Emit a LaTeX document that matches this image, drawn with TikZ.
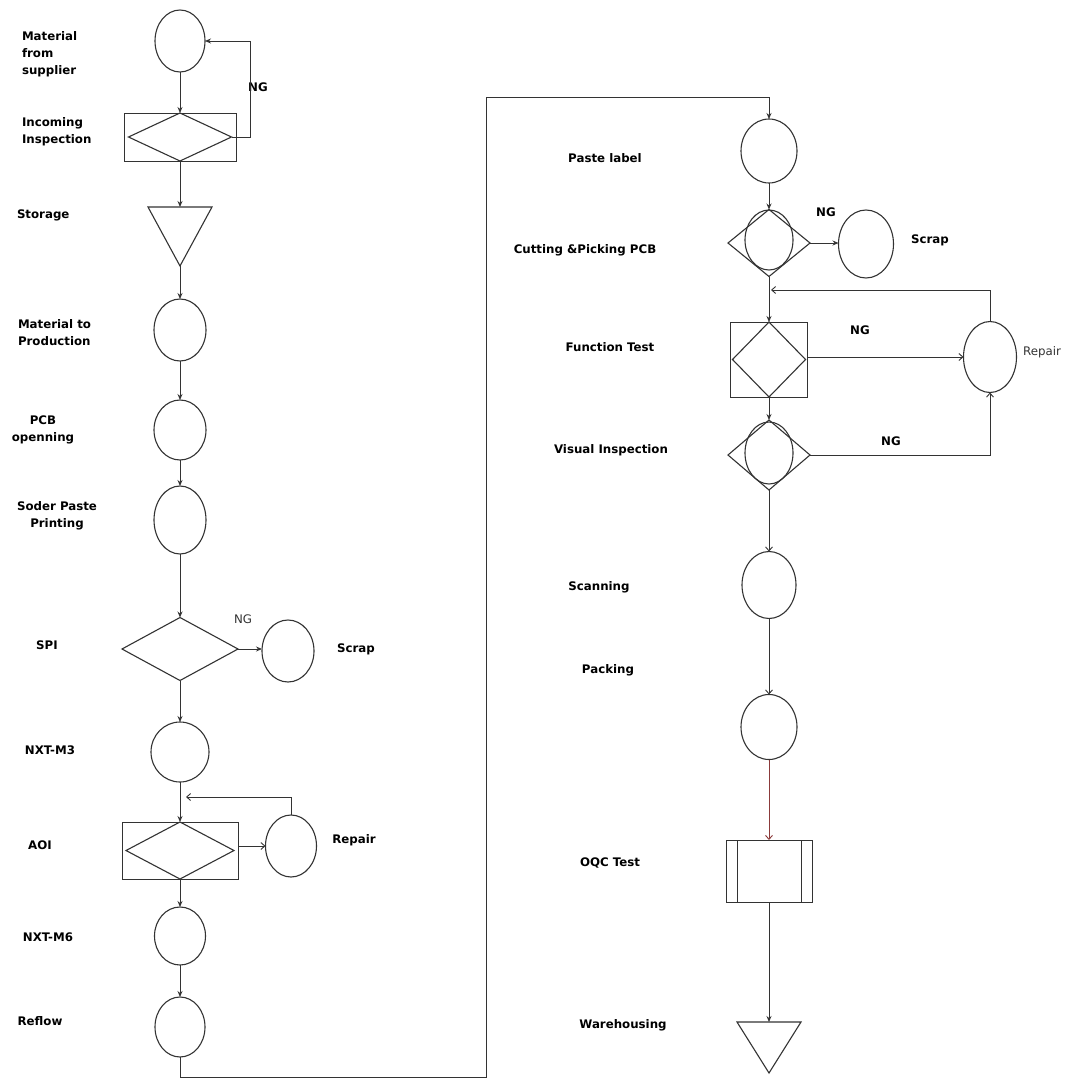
\documentclass[tikz,border=0pt]{standalone}
\usepackage{fontspec}
\setmainfont{DejaVu Sans}
\usetikzlibrary{shapes.geometric,arrows.meta}
\definecolor{ln}{HTML}{333333}
\definecolor{redln}{HTML}{8B3A3A}
\tikzset{
  every node/.style={inner sep=0pt,outer sep=0pt},
  circ/.style={draw=ln,line width=1.1pt,ellipse},
  dia/.style={draw=ln,line width=1.1pt,diamond},
  boxx/.style={draw=ln,line width=0.9pt,rectangle},
  tribox/.style={rectangle},
  lbl/.style={font=\fontsize{11.8}{17}\selectfont\bfseries,text=black},
  rlbl/.style={font=\fontsize{11.8}{17}\selectfont,text=ln},
  conn/.style={draw=ln,line width=0.9pt},
  arr/.style={conn,-{Stealth[length=6pt,width=5pt]}},
  oarr/.style={conn,-{Straight Barb[length=4pt,width=7pt]}},
}
\begin{document}
\begin{tikzpicture}[x=1pt,y=-1pt]
\useasboundingbox[fill=white] (0,0) rectangle (1069,1079);

% ---------- left column ----------
\node[circ,minimum width=50,minimum height=62] (mfs) at (180,41) {};
\node[boxx,minimum width=112,minimum height=48] (inc) at (180,137) {};
\node[dia,minimum width=103,minimum height=48] (incd) at (180,137) {};
\node[tribox,minimum width=64,minimum height=59] (stor) at (180,236.5) {};
\draw[ln,line width=1.1pt] (stor.north west) -- (stor.north east) -- (stor.south) -- cycle;
\node[circ,minimum width=52,minimum height=62] (mtp) at (180,330) {};
\node[circ,minimum width=52,minimum height=60] (pcb) at (180,430) {};
\node[circ,minimum width=52,minimum height=68] (sp) at (180,520) {};
\node[dia,minimum width=116,minimum height=63] (spi) at (180,649) {};
\node[circ,minimum width=52,minimum height=62] (scr1) at (288,651) {};
\node[circ,minimum width=58,minimum height=60] (nxt3) at (180,752) {};
\node[boxx,minimum width=116,minimum height=57] (aoi) at (180,850.5) {};
\node[dia,minimum width=108,minimum height=57] (aoid) at (180,850.5) {};
\node[circ,minimum width=51,minimum height=62] (rep1) at (291,846) {};
\node[circ,minimum width=51,minimum height=58] (nxt6) at (180,936) {};
\node[circ,minimum width=50,minimum height=60] (refl) at (180,1027) {};

% left labels
\node[lbl,anchor=west,align=left] (t1) at (22,54) {Material\\from\\supplier};
\node[lbl,anchor=west,align=left] (t2) at (22,132) {Incoming\\Inspection};
\node[lbl,anchor=west] (t3) at (17,215) {Storage};
\node[lbl,anchor=west,align=left] (t4) at (18,333) {Material to\\Production};
\node[lbl,align=center] (t5) at (43,430) {PCB\\openning};
\node[lbl,align=center] (t6) at (57,516) {Soder Paste\\Printing};
\node[lbl] (t7) at (47,645) {SPI};
\node[lbl] (t8) at (50,750) {NXT-M3};
\node[lbl] (t9) at (40,845) {AOI};
\node[lbl] (t10) at (48,937) {NXT-M6};
\node[lbl] (t11) at (40,1021) {Reflow};
\node[lbl] (t12) at (356,649) {Scrap};
\node[lbl] (t13) at (354,840) {Repair};
\node[lbl] (ng1) at (258,87) {NG};
\node[rlbl] (ng2) at (243,619) {NG};

% left connectors
\draw[arr] (mfs.south) -- (inc.north);
\draw[arr] (incd.east) -- ++(19,0) |- (mfs.east);
\draw[arr] (inc.south) -- (stor.north);
\draw[arr] (stor.south) -- (mtp.north);
\draw[arr] (mtp.south) -- (pcb.north);
\draw[arr] (pcb.south) -- (sp.north);
\draw[arr] (sp.south) -- (spi.north);
\draw[arr] (spi.east) -- (spi.east -| scr1.west);
\draw[arr] (spi.south) -- (nxt3.north);
\draw[arr] (nxt3.south) -- (aoi.north);
\draw[oarr] (aoi.east |- rep1.west) -- (rep1.west);
\coordinate (fb1) at (186,797);
\draw[oarr] (rep1.north) |- (fb1);
\draw[arr] (aoi.south) -- (nxt6.north);
\draw[arr] (nxt6.south) -- (refl.north);

% ---------- right column ----------
\node[circ,minimum width=56,minimum height=64] (paste) at (769,151) {};
\node[dia,minimum width=82,minimum height=67] (cut) at (769,243) {};
\node[circ,minimum width=48,minimum height=60] (cutc) at (769,240) {};
\node[circ,minimum width=55,minimum height=68] (scr2) at (866,244) {};
\node[boxx,minimum width=77,minimum height=75] (ft) at (769,359.5) {};
\node[dia,minimum width=73,minimum height=75] (ftd) at (769,359.5) {};
\node[circ,minimum width=53,minimum height=71] (rep2) at (990,357) {};
\node[dia,minimum width=82,minimum height=70] (vis) at (769,455) {};
\node[circ,minimum width=48,minimum height=62] (visc) at (769,453) {};
\node[circ,minimum width=54,minimum height=67] (scan) at (769,585) {};
\node[circ,minimum width=56,minimum height=65] (pack) at (769,727) {};
\node[boxx,minimum width=86,minimum height=62] (oqc) at (769,871) {};
\draw[ln,line width=0.9pt] ([xshift=11]oqc.north west) -- ([xshift=11]oqc.south west);
\draw[ln,line width=0.9pt] ([xshift=-11]oqc.north east) -- ([xshift=-11]oqc.south east);
\node[tribox,minimum width=64,minimum height=51] (ware) at (769,1047.5) {};
\draw[ln,line width=1.1pt] (ware.north west) -- (ware.north east) -- (ware.south) -- cycle;

% right labels
\node[lbl] (r1) at (605,158) {Paste label};
\node[lbl] (r2) at (585,250) {Cutting \&Picking PCB};
\node[lbl] (r3) at (610,347) {Function Test};
\node[lbl] (r4) at (611,450) {Visual Inspection};
\node[lbl] (r5) at (599,587) {Scanning};
\node[lbl] (r6) at (608,670) {Packing};
\node[lbl] (r7) at (610,863) {OQC Test};
\node[lbl] (r8) at (623,1025) {Warehousing};
\node[lbl] (r9) at (930,240) {Scrap};
\node[rlbl] (r10) at (1042,352) {Repair};
\node[lbl] (ng3) at (826,212) {NG};
\node[lbl] (ng4) at (860,330) {NG};
\node[lbl] (ng5) at (891,441) {NG};

% long connector
\coordinate (lc1) at (486,1077);
\coordinate (lc2) at (486,97);
\draw[arr] (refl.south) |- (lc1) -- (lc2) -| (paste.north);

% right connectors
\draw[arr] (paste.south) -- (cut.north);
\draw[arr] (cut.east) -- (cut.east -| scr2.west);
\draw[arr] (cut.south) -- (ft.north);
\coordinate (fb2) at (771,290);
\draw[oarr] (rep2.north) |- (fb2);
\draw[oarr] (ft.east |- rep2.west) -- (rep2.west);
\draw[arr] (ft.south) -- (vis.north);
\draw[oarr] (vis.east) -| (rep2.south);
\draw[oarr] (vis.south) -- (scan.north);
\draw[oarr] (scan.south) -- (pack.north);
\draw[oarr,draw=redln] (pack.south) -- (oqc.north);
\draw[arr] (oqc.south) -- (ware.north);
\end{tikzpicture}
\end{document}
